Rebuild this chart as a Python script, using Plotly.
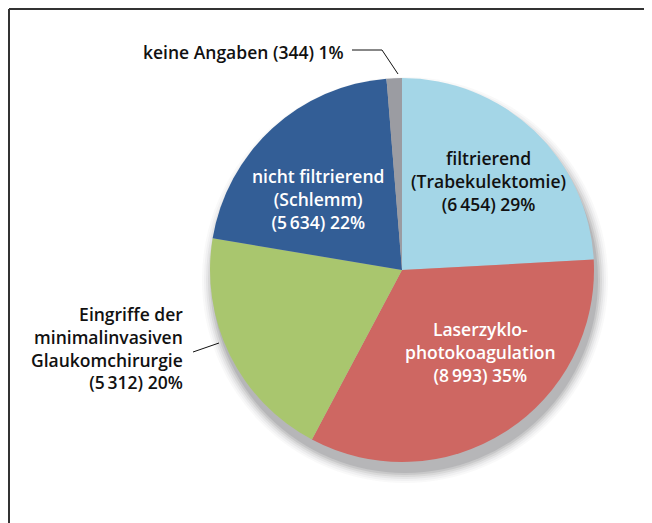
import plotly.graph_objects as go

# ---- data ----
categories = ["filtrierend (Trabekulektomie)", "Laserzyklo-photokoagulation",
              "Eingriffe der minimalinvasiven Glaukomchirurgie",
              "nicht filtrierend (Schlemm)", "keine Angaben"]
values = [6454, 8993, 5312, 5634, 344]
value_labels = ["6\u2009454", "8\u2009993", "5\u2009312", "5\u2009634", "344"]
pct_labels = ["29%", "35%", "20%", "22%", "1%"]
name_lines = [["filtrierend", "(Trabekulektomie)"],
              ["Laserzyklo-", "photokoagulation"],
              ["Eingriffe der", "minimalinvasiven", "Glaukomchirurgie"],
              ["nicht filtrierend", "(Schlemm)"],
              ["keine Angaben"]]
colors = ["#A4D6E7", "#CE6762", "#A9C66E", "#335E96", "#9B9CA2"]

W, H = 652, 523
OFF = 8  # page body margin
cx, cy, R = 402, 270, 192

def px(x):
    return (x - OFF) / W

def py(y):
    return 1 - (y - OFF) / H

FONT = "Open Sans"
FS = 17.5
FW = 600

fig = go.Figure()
fig.add_trace(go.Pie(
    labels=categories, values=values, marker=dict(colors=colors, line=dict(width=0)),
    sort=False, direction="clockwise", rotation=0, textinfo="none",
    hoverinfo="label+value", showlegend=False,
    domain=dict(x=[px(cx - R), px(cx + R)], y=[py(cy + R), py(cy - R)]),
))

shapes = []
# soft drop shadow
for dr, op in [(11, 0.03), (9, 0.04), (7, 0.06), (5, 0.08), (3, 0.10), (1, 0.13)]:
    r = R + dr
    ox, oy = cx + 3, cy + 10
    shapes.append(dict(type="circle", xref="paper", yref="paper", layer="below",
                       x0=px(ox - r), x1=px(ox + r), y0=py(oy + r), y1=py(oy - r),
                       fillcolor=f"rgba(60,60,70,{op})", line=dict(width=0)))
# frame
shapes.append(dict(type="line", xref="paper", yref="paper", x0=px(9), x1=1, y0=py(9), y1=py(9),
                   line=dict(color="#333333", width=2)))
shapes.append(dict(type="line", xref="paper", yref="paper", x0=px(9), x1=px(9), y0=py(9), y1=0,
                   line=dict(color="#333333", width=2)))
# leader lines
shapes.append(dict(type="path", xref="paper", yref="paper",
                   path=f"M {px(352)} {py(50)} L {px(382)} {py(50)} L {px(398)} {py(74)}",
                   line=dict(color="#111111", width=1)))
shapes.append(dict(type="line", xref="paper", yref="paper", x0=px(193), y0=py(352), x1=px(219), y1=py(343),
                   line=dict(color="#111111", width=1)))

def label(i):
    lines = list(name_lines[i])
    lines.append(f"({value_labels[i]}) {pct_labels[i]}")
    return lines

annotations = []
def add(i, x, y, color, align="center", xanchor="center"):
    annotations.append(dict(text="<br>".join(label(i)), x=px(x), y=py(y), xref="paper", yref="paper",
                            showarrow=False, align=align, xanchor=xanchor, yanchor="middle",
                            font=dict(family=FONT, size=FS, color=color, weight=FW)))

add(0, 488, 181, "#111111")
add(1, 480, 352, "#ffffff")
add(2, 185, 348, "#111111", align="right", xanchor="right")
add(3, 318, 199, "#ffffff")
annotations.append(dict(text=f"{name_lines[4][0]} ({value_labels[4]}) {pct_labels[4]}",
                        x=px(346), y=py(52), xref="paper", yref="paper", showarrow=False,
                        xanchor="right", yanchor="middle",
                        font=dict(family=FONT, size=FS, color="#111111", weight=FW)))

fig.update_layout(width=W, height=H, margin=dict(l=0, r=0, t=0, b=0),
                  paper_bgcolor="white", plot_bgcolor="white",
                  shapes=shapes, annotations=annotations)
fig.write_html("out.html")
